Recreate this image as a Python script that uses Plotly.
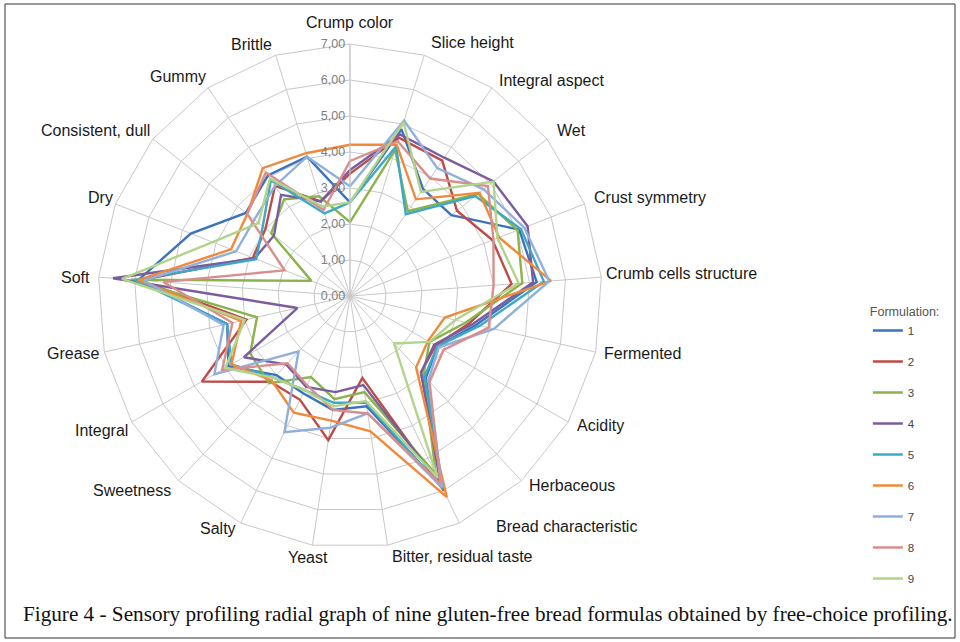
import plotly.graph_objects as go

categories = ["Crump color", "Slice height", "Integral aspect", "Wet", "Crust symmetry",
              "Crumb cells structure", "Fermented", "Acidity", "Herbaceous",
              "Bread characteristic", "Bitter, residual taste", "Yeast", "Salty",
              "Sweetness", "Integral", "Grease", "Soft", "Dry", "Consistent, dull",
              "Gummy", "Brittle"]

f1 = [2.6, 4.85, 3.6, 3.6, 5.05, 5.2, 3.6, 2.8, 3.1, 5.9, 3.1, 3.2, 3.0, 3.0, 3.9, 3.5, 5.9, 4.75, 3.7, 4.05, 4.05]
f2 = [3.4, 4.6, 4.55, 3.8, 4.25, 4.5, 3.4, 2.75, 2.9, 6.0, 2.3, 4.05, 3.2, 3.25, 4.75, 2.95, 5.85, 2.9, 3.0, 3.7, 2.75]
f3 = [2.05, 4.25, 2.85, 4.55, 5.0, 4.8, 3.3, 2.55, 3.0, 5.5, 2.7, 2.9, 2.5, 3.3, 3.2, 2.65, 6.1, 1.15, 2.8, 3.25, 2.9]
f4 = [3.5, 4.7, 4.65, 5.1, 5.3, 5.1, 3.5, 2.7, 2.9, 5.8, 2.5, 2.7, 2.8, 2.6, 3.4, 1.5, 6.6, 2.85, 2.7, 3.4, 2.75]
f5 = [2.6, 4.35, 2.75, 4.45, 5.1, 5.4, 3.7, 2.8, 3.05, 5.95, 3.0, 3.0, 2.9, 3.1, 3.8, 3.5, 6.0, 2.8, 3.1, 3.9, 2.4]
f6 = [4.2, 4.4, 3.25, 4.6, 4.45, 5.6, 2.7, 2.5, 2.7, 6.2, 3.8, 3.5, 3.6, 3.2, 3.8, 3.1, 5.9, 3.55, 3.65, 4.3, 4.15]
f7 = [3.05, 5.1, 4.3, 4.75, 5.2, 5.55, 4.1, 2.85, 3.2, 5.9, 3.3, 3.7, 4.2, 2.1, 4.35, 3.6, 5.75, 3.4, 3.4, 3.7, 4.05]
f8 = [3.75, 4.5, 3.95, 4.9, 4.28, 4.0, 3.95, 3.0, 3.25, 5.8, 3.3, 3.2, 2.75, 2.55, 4.1, 3.35, 5.2, 1.95, 3.65, 4.15, 2.5]
f9 = [2.6, 5.05, 3.5, 5.1, 4.4, 4.7, 3.0, 2.55, 1.8, 5.6, 2.95, 3.1, 2.9, 3.1, 4.0, 3.0, 6.35, 4.1, 3.25, 3.95, 2.6]

series_names = ["1", "2", "3", "4", "5", "6", "7", "8", "9"]
series_values = [f1, f2, f3, f4, f5, f6, f7, f8, f9]
colors = ["#3B73BC", "#BE4B48", "#8AB34C", "#7A5C9F", "#3FA8C4", "#F08A3A",
          "#8FB0DD", "#D98E8C", "#B2D38A"]

radial_ticks = [0, 1, 2, 3, 4, 5, 6, 7]
radial_ticktext = ["0,00", "1,00", "2,00", "3,00", "4,00", "5,00", "6,00", "7,00"]

# layout: pixel centres of the category captions (as placed in the reference)
label_pos = [(350, 22), (472, 42), (552, 80), (571, 130), (650, 198), (681, 273),
             (642, 354), (600, 425), (572, 485), (566, 526), (462, 556), (308, 557),
             (218, 528), (132, 490), (101, 430), (73, 353), (75, 277), (100, 197),
             (95, 130), (178, 77), (251, 45)]

fig = go.Figure()
for name, vals, col in zip(series_names, series_values, colors):
    fig.add_trace(go.Scatterpolar(
        r=vals + vals[:1],
        theta=categories + categories[:1],
        mode="lines",
        name=name,
        legendgroup=name,
        line=dict(color=col, width=2.4),
    ))

W, H = 960, 642
cx, cy, R = 350, 296, 252

annotations = []
for cat, (lx, ly) in zip(categories, label_pos):
    annotations.append(dict(text=cat, xref="paper", yref="paper", x=lx / W, y=1 - ly / H,
                            showarrow=False, xanchor="center", yanchor="middle",
                            font=dict(size=16, color="#1a1a1a")))
annotations.append(dict(
    text="Figure 4 - Sensory profiling radial graph of nine gluten-free bread formulas obtained by free-choice profiling.",
    xref="paper", yref="paper", x=488 / W, y=1 - 614 / H, showarrow=False,
    xanchor="center", yanchor="middle",
    font=dict(family="Liberation Serif, Times New Roman, serif", size=21.2, color="#111111")))

fig.update_layout(
    width=W, height=H,
    margin=dict(l=0, r=0, t=0, b=0),
    paper_bgcolor="white",
    plot_bgcolor="white",
    font=dict(family="Liberation Sans, Arial, sans-serif", color="#1a1a1a"),
    polar=dict(
        domain=dict(x=[(cx - R) / W, (cx + R) / W], y=[(H - cy - R) / H, (H - cy + R) / H]),
        bgcolor="white",
        gridshape="linear",
        angularaxis=dict(
            categoryorder="array", categoryarray=categories,
            rotation=90, direction="clockwise",
            gridcolor="#c8c8c8", linecolor="#c8c8c8", gridwidth=1,
            ticks="", showticklabels=False,
        ),
        radialaxis=dict(
            range=[0, 7], tickvals=radial_ticks, ticktext=radial_ticktext,
            angle=90, tickangle=90, side="counterclockwise",
            gridcolor="#c8c8c8", linecolor="#c8c8c8", showline=True,
            ticks="", tickfont=dict(size=12.5, color="#7f7f7f"),
        ),
    ),
    showlegend=True,
    legend=dict(
        x=0.904, y=0.533, xanchor="left", yanchor="top",
        title=dict(text="Formulation:", font=dict(size=12.5, color="#555555")),
        font=dict(size=11.5, color="#444444"),
        tracegroupgap=12,
        bgcolor="rgba(0,0,0,0)",
    ),
    shapes=[
        dict(type="rect", xref="paper", yref="paper", x0=5 / W, x1=955 / W,
             y0=1 - 638 / H, y1=1 - 4 / H, line=dict(color="#333333", width=1)),
    ],
    annotations=annotations,
)

fig.write_html("out.html",
               config={"displayModeBar": False},
               post_script="document.body.style.margin='0';document.body.style.overflow='hidden';")
